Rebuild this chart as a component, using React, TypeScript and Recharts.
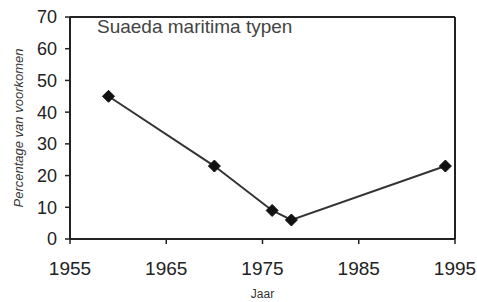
import React from 'react';
import { LineChart, Line, XAxis, YAxis, ReferenceLine, Label } from 'recharts';

const years = [1959, 1970, 1976, 1978, 1994];
const percentages = [45, 23, 9, 6, 23];
const xTicks = [1955, 1965, 1975, 1985, 1995];
const yTicks = [0, 10, 20, 30, 40, 50, 60, 70];
const title = 'Suaeda maritima typen';
const xLabel = 'Jaar';
const yLabel = 'Percentage van voorkomen';

const chartData = years.map((year, i) => ({ year, pct: percentages[i] }));

const ink = '#222';
const font = '"Liberation Sans", Arial, sans-serif';

function Diamond(props: any) {
  const { cx, cy } = props;
  if (cx == null || cy == null) return null;
  const r = 6;
  return (
    <polygon
      points={`${cx},${cy - r} ${cx + r},${cy} ${cx},${cy + r} ${cx - r},${cy}`}
      fill="#111"
      stroke="#111"
    />
  );
}

export default function App() {
  return (
    <div style={{ position: 'absolute', left: 0, top: 0, width: 477, height: 302, background: '#fff' }}>
      <LineChart
        width={477}
        height={302}
        data={chartData}
        margin={{ top: 17, right: 22, bottom: 8, left: 0 }}
      >
        <XAxis
          dataKey="year"
          type="number"
          domain={[1955, 1995]}
          ticks={xTicks}
          allowDataOverflow
          height={55}
          tickSize={5}
          tickMargin={18}
          axisLine={{ stroke: ink, strokeWidth: 2 }}
          tickLine={{ stroke: ink, strokeWidth: 1.5 }}
          tick={{ fill: '#222', fontSize: 19, fontFamily: font }}
        >
          <Label
            value={xLabel}
            position="insideBottom"
            offset={-4}
            style={{ fill: '#333', fontSize: 12, fontFamily: font }}
          />
        </XAxis>
        <YAxis
          type="number"
          domain={[0, 70]}
          ticks={yTicks}
          width={70}
          tickSize={5}
          tickMargin={8}
          axisLine={{ stroke: ink, strokeWidth: 2 }}
          tickLine={{ stroke: ink, strokeWidth: 1.5 }}
          tick={{ fill: '#222', fontSize: 18, fontFamily: font }}
        >
          <Label
            value={yLabel}
            angle={-90}
            position="insideLeft"
            offset={18}
            style={{ textAnchor: 'middle', fill: '#333', fontSize: 13, fontStyle: 'italic', fontFamily: font }}
          />
        </YAxis>
        <ReferenceLine y={70} stroke={ink} strokeWidth={2} />
        <ReferenceLine x={1995} stroke={ink} strokeWidth={2} />
        <Line
          dataKey="pct"
          stroke="#333"
          strokeWidth={2}
          dot={<Diamond />}
          activeDot={false}
          isAnimationActive={false}
        />
      </LineChart>
      <div
        style={{
          position: 'absolute',
          left: 97,
          top: 16,
          fontFamily: font,
          fontSize: 19,
          color: '#444',
          whiteSpace: 'nowrap',
        }}
      >
        {title}
      </div>
    </div>
  );
}
